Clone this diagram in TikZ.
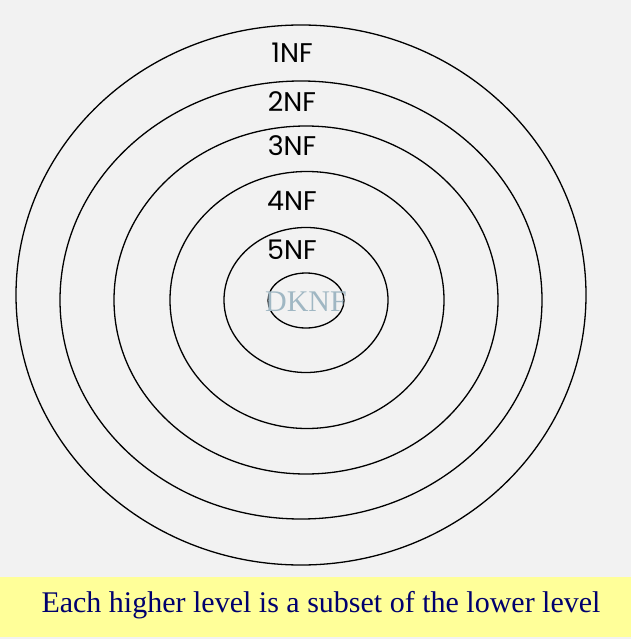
\documentclass[tikz,border=0pt]{standalone}
\usepackage{fontspec}
\setmainfont{Liberation Serif}
\newfontfamily\geofont{Poppins}
\usetikzlibrary{shapes.geometric}
\definecolor{bg}{HTML}{F2F2F2}
\definecolor{band}{HTML}{FFFF99}
\definecolor{navy}{RGB}{0,0,110}
\definecolor{dknf}{HTML}{A0B7C3}
\begin{document}
\begin{tikzpicture}[x=1pt,y=-1pt,
  ring/.style={ellipse,draw=black,line width=1.3pt,inner sep=0pt},
  nflabel/.style={font=\geofont\fontsize{27}{30}\selectfont,text=black,inner sep=0pt}]
\fill[bg] (0,0) rectangle (631,639);
\useasboundingbox (0,0) rectangle (631,639);
\fill[band] (0,577) rectangle (631,637);
\node[ring,minimum width=570pt,minimum height=540pt] (r1) at (301,295) {};
\node[ring,minimum width=482pt,minimum height=438pt] (r2) at (301,300) {};
\node[ring,minimum width=384pt,minimum height=348pt] (r3) at (306,300) {};
\node[ring,minimum width=274pt,minimum height=257pt] (r4) at (307,300) {};
\node[ring,minimum width=164pt,minimum height=145pt] (r5) at (306,300) {};
\node[ring,minimum width=76pt,minimum height=55pt] (r6) at (306,300.5) {};
\node[nflabel] (l1) at (292,53) {1NF};
\node[nflabel] (l2) at (292,102) {2NF};
\node[nflabel] (l3) at (292,146) {3NF};
\node[nflabel] (l4) at (292,201) {4NF};
\node[nflabel] (l5) at (292,250) {5NF};
\node[font=\fontsize{30}{33}\selectfont,text=dknf,inner sep=0pt] (dk) at (306,302) {DKNF};
\node[font=\fontsize{30}{34}\selectfont,text=navy,inner sep=0pt,anchor=base] (cap) at (321,612) {Each higher level is a subset of the lower level};
\end{tikzpicture}
\end{document}
